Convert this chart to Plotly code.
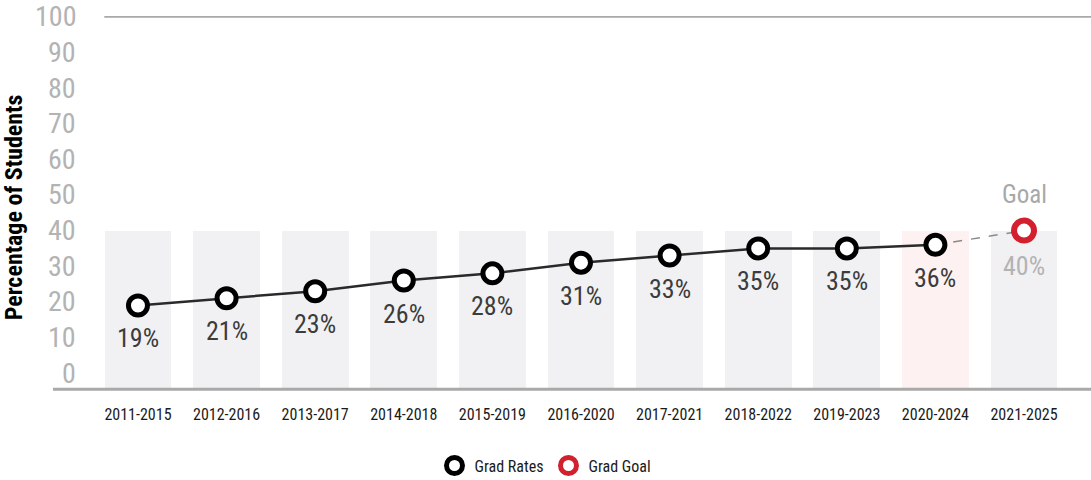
import plotly.graph_objects as go

# Cohort windows and graduation rates (%)
cohorts = ["2011-2015", "2012-2016", "2013-2017", "2014-2018", "2015-2019",
           "2016-2020", "2017-2021", "2018-2022", "2019-2023", "2020-2024",
           "2021-2025"]
grad_rates = [19, 21, 23, 26, 28, 31, 33, 35, 35, 36]
goal_value = 40
y_ticks = [0, 10, 20, 30, 40, 50, 60, 70, 80, 90, 100]

FONT = "Roboto Condensed, Liberation Sans Narrow, sans-serif"
TICK_GREY = "#b3b3b3"
LABEL_DARK = "#3c3c3c"
GOAL_RED = "#d2202f"

x_idx = list(range(len(cohorts)))
rate_idx = x_idx[:len(grad_rates)]
goal_idx = x_idx[-1]
floor = -4.5

fig = go.Figure()

# Pale background columns up to the goal level
bar_colors = ["#f1f1f3"] * len(cohorts)
bar_colors[len(grad_rates) - 1] = "#fdf1f1"
fig.add_trace(go.Bar(
    x=x_idx, y=[goal_value - floor] * len(cohorts), base=floor,
    width=0.755, marker=dict(color=bar_colors, line=dict(width=0)),
    showlegend=False, hoverinfo="skip"))

# Dashed connector from the latest rate to the goal
fig.add_trace(go.Scatter(
    x=[rate_idx[-1], goal_idx], y=[grad_rates[-1], goal_value],
    mode="lines", line=dict(color="#8a8a8a", width=1.5, dash="dash"),
    showlegend=False, hoverinfo="skip"))

# Trend line, drawn separately so the legend shows only the ring
fig.add_trace(go.Scatter(
    x=rate_idx, y=grad_rates, mode="lines",
    line=dict(color="#2a2a2a", width=2.5),
    showlegend=False, hoverinfo="skip"))

fig.add_trace(go.Scatter(
    x=rate_idx, y=grad_rates, mode="markers", name="Grad Rates",
    marker=dict(symbol="circle", size=19, color="white",
                line=dict(color="black", width=5))))

fig.add_trace(go.Scatter(
    x=[goal_idx], y=[goal_value], mode="markers", name="Grad Goal",
    marker=dict(symbol="circle", size=20, color="white",
                line=dict(color=GOAL_RED, width=6))))

annotations = []
for i, v in zip(rate_idx, grad_rates):
    annotations.append(dict(x=i, y=v, text=f"{v}%", showarrow=False,
                            yshift=-33, font=dict(family=FONT, size=26, color=LABEL_DARK)))
annotations.append(dict(x=goal_idx, y=goal_value, text=f"{goal_value}%", showarrow=False,
                        yshift=-35, font=dict(family=FONT, size=26, color=TICK_GREY)))
annotations.append(dict(x=goal_idx, y=goal_value, text="Goal", showarrow=False,
                        yshift=36, font=dict(family=FONT, size=25, color="#a8a8a8")))

# y tick labels sit left of the columns
for t in y_ticks:
    annotations.append(dict(x=-0.675, y=t, text=str(t), showarrow=False,
                            xanchor="right", font=dict(family=FONT, size=28, color=TICK_GREY)))

annotations.append(dict(xref="paper", yref="paper", x=-0.0375, y=0.49,
                        xanchor="center", yanchor="middle",
                        text="<b>Percentage of Students</b>", textangle=-90,
                        showarrow=False, font=dict(family=FONT, size=24, color="black")))

shapes = [
    dict(type="line", xref="x", yref="y", x0=-0.38, x1=10.76, y0=100, y1=100,
         line=dict(color="#a9a9a9", width=2)),
    dict(type="line", xref="paper", yref="y", x0=0, x1=1, y0=floor, y1=floor,
         line=dict(color="#a9a9a9", width=3)),
]

fig.update_layout(
    width=1091, height=480,
    margin=dict(l=53, r=0, t=16, b=89, autoexpand=False),
    paper_bgcolor="white", plot_bgcolor="white",
    font=dict(family=FONT),
    bargap=0,
    xaxis=dict(range=[-0.959, 10.756], tickvals=x_idx, ticktext=cohorts,
               showgrid=False, zeroline=False, showline=False, ticks="",
               ticklabelstandoff=12,
               tickfont=dict(family=FONT, size=16, color="#1a1a1a")),
    yaxis=dict(range=[-5, 100.2], showgrid=False, zeroline=False, showline=False,
               showticklabels=False, ticks=""),
    legend=dict(orientation="h", x=0.5, xanchor="center", xref="container",
                y=0.03, yanchor="middle", yref="container",
                font=dict(family=FONT, size=16, color="#1a1a1a")),
    annotations=annotations, shapes=shapes,
    showlegend=True,
)

fig.write_html("out.html")
